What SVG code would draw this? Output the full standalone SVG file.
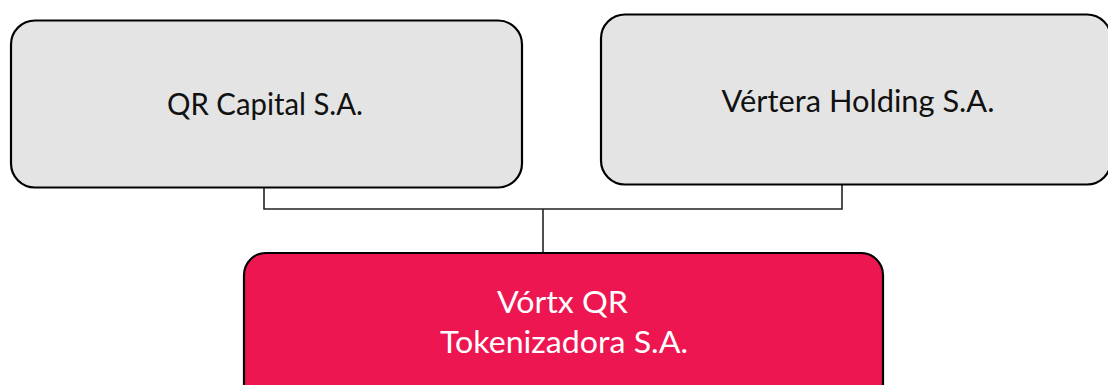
<svg xmlns="http://www.w3.org/2000/svg" width="1108" height="385" viewBox="0 0 1108 385">
<style>
.box{stroke:#000;stroke-width:2.2}
.gray{fill:#e4e4e4}
.red{fill:#ee1651}
.t{font-family:Lato,"Open Sans",sans-serif;font-size:30px;text-anchor:middle}
.b{font-size:31px}
.dark{fill:#111}
.light{fill:#fff}
.conn{fill:none;stroke:#222;stroke-width:1.6}
</style>
<rect width="1108" height="385" fill="#fff"/>
<g id="connectors">
<polyline class="conn" points="264,187 264,209 842,209 842,184"/>
<line class="conn" x1="543" y1="209" x2="543" y2="253"/>
</g>
<g id="qr-capital">
<rect class="box gray" x="11" y="20.5" width="511" height="167" rx="24"/>
<text class="t dark" x="265" y="114.5" textLength="196" lengthAdjust="spacingAndGlyphs">QR Capital S.A.</text>
</g>
<g id="vertera">
<rect class="box gray" x="601" y="14.5" width="510" height="170" rx="24"/>
<text class="t dark" x="858" y="111.5" textLength="273" lengthAdjust="spacingAndGlyphs">Vértera Holding S.A.</text>
</g>
<g id="vortx">
<rect class="box red" x="244" y="253" width="639" height="160" rx="22"/>
<text class="t b light" x="562.5" y="313" textLength="131" lengthAdjust="spacingAndGlyphs">Vórtx QR</text>
<text class="t b light" x="564" y="352.5" textLength="248" lengthAdjust="spacingAndGlyphs">Tokenizadora S.A.</text>
</g>
</svg>
